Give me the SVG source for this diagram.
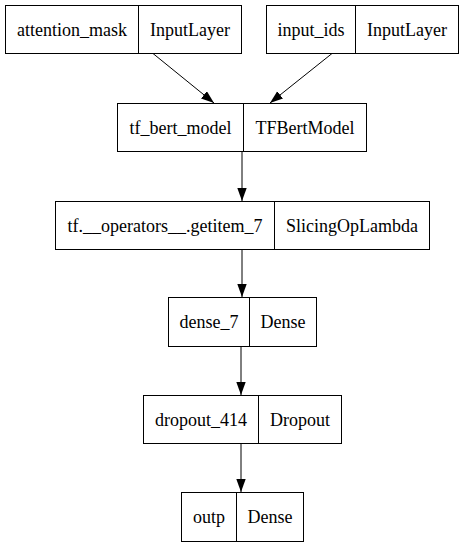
<svg xmlns="http://www.w3.org/2000/svg" width="463" height="547" viewBox="0 0 463 547">
<style>
.box{fill:#fff;stroke:#000;stroke-width:1}
.div{stroke:#000;stroke-width:1}
text{font-family:"Liberation Serif","Times New Roman",serif;font-size:18px;fill:#000;text-anchor:middle}
.edge{stroke:#000;stroke-width:1;fill:none;marker-end:url(#ah)}
</style>
<defs>
<marker id="ah" markerUnits="userSpaceOnUse" markerWidth="14" markerHeight="10" refX="13" refY="4.7" orient="auto">
<path d="M0,0 L13,4.7 L0,9.4 z" fill="#000"/>
</marker>
</defs>
<rect width="463" height="547" fill="#fff"/>
<g id="connectors">
<line class="edge" x1="153" y1="53.5" x2="214" y2="103"/>
<line class="edge" x1="332" y1="53.5" x2="270" y2="103"/>
<line class="edge" x1="242" y1="151" x2="242" y2="201"/>
<line class="edge" x1="242" y1="249" x2="242" y2="297"/>
<line class="edge" x1="241" y1="346" x2="241" y2="395"/>
<line class="edge" x1="241" y1="443" x2="241" y2="492"/>
</g>
<g id="attention_mask">
<rect class="box" x="5.5" y="5.5" width="236" height="48"/>
<line class="div" x1="138.5" y1="5.5" x2="138.5" y2="53.5"/>
<text x="72" y="35.5">attention_mask</text>
<text x="190" y="35.5">InputLayer</text>
</g>
<g id="input_ids">
<rect class="box" x="266.5" y="5.5" width="192" height="48"/>
<line class="div" x1="355.5" y1="5.5" x2="355.5" y2="53.5"/>
<text x="311" y="35.5">input_ids</text>
<text x="407" y="35.5">InputLayer</text>
</g>
<g id="tf_bert_model">
<rect class="box" x="117.5" y="103.5" width="249" height="48"/>
<line class="div" x1="243.5" y1="103.5" x2="243.5" y2="151.5"/>
<text x="180.5" y="133.5">tf_bert_model</text>
<text x="305" y="133.5">TFBertModel</text>
</g>
<g id="getitem_7">
<rect class="box" x="55.5" y="201.5" width="374" height="48"/>
<line class="div" x1="274.5" y1="201.5" x2="274.5" y2="249.5"/>
<text x="165" y="231.5">tf.__operators__.getitem_7</text>
<text x="352" y="231.5">SlicingOpLambda</text>
</g>
<g id="dense_7">
<rect class="box" x="168.5" y="297.5" width="148" height="49"/>
<line class="div" x1="249.5" y1="297.5" x2="249.5" y2="346.5"/>
<text x="209" y="328">dense_7</text>
<text x="283" y="328">Dense</text>
</g>
<g id="dropout_414">
<rect class="box" x="143.5" y="395.5" width="198" height="48"/>
<line class="div" x1="258.5" y1="395.5" x2="258.5" y2="443.5"/>
<text x="201" y="425.5">dropout_414</text>
<text x="300" y="425.5">Dropout</text>
</g>
<g id="outp">
<rect class="box" x="181.5" y="492.5" width="122" height="49"/>
<line class="div" x1="236.5" y1="492.5" x2="236.5" y2="541.5"/>
<text x="209" y="523">outp</text>
<text x="270" y="523">Dense</text>
</g>
</svg>
